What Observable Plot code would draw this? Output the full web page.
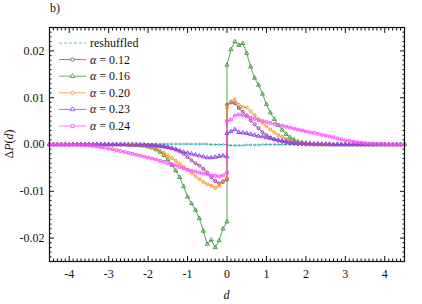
<!DOCTYPE html>
<html>
<head>
<meta charset="utf-8">
<script src="https://cdn.jsdelivr.net/npm/d3@7"></script>
<script src="https://cdn.jsdelivr.net/npm/@observablehq/plot@0.6"></script>
<style>
  html, body { margin: 0; padding: 0; background: white; font-family: "Liberation Serif", serif; }
  #wrap { position: relative; width: 422px; height: 304px; }
  #wrap svg, #wrap svg text { font-family: "Liberation Serif", serif !important; }
  #overlay { position: absolute; left: 0; top: 0; pointer-events: none; }
</style>
</head>
<body>
<div id="wrap"></div>
<script>
// ---------- data (values in units of 1e-4) ----------
const UNIT = 1e-4;
// bin positions: negative side -4.5 .. 0.0, positive side 0.0 .. 4.5 (step 0.1)
const dNeg = d3.range(-45, 1).map(i => i / 10);
const dPos = d3.range(0, 46).map(i => i / 10);

const seriesNames = ["reshuffled", "α = 0.12", "α = 0.16", "α = 0.20", "α = 0.23", "α = 0.24"];
const seriesColors = ["#35aaaa", "#962e96", "#3a963a", "#ff8a1e", "#8e3cf5", "#ff4cff"];
const seriesSymbols = ["circle", "circle", "triangle", "circle", "triangle", "square"];

const reshuffledNeg = [0,0,0,0,0,0,0,0,0,0, 0,0,0,0,0,0,0,0,0,0, 0,0,0,0,0,
  1,1,1,1,1,1,1,1,1,1,1,1,1,1,1,1, 0,0,0,0,0];
const reshuffledPos = [-2,-2,-2,-2,-2,-1,-1,-1,-1, 0,0,0,0,0,0,0,0,0,0,0,
  0,0,0,0,0,0,0,0,0,0, 0,0,0,0,0,0,0,0,0,0, 0,0,0,0,0,0];

const a012Neg = [0,0,0,0,0,0,0,0,0,0, 0,0,0,0,0,0,0,0,0,0, 0,0,0,0,0,
  -1,-1,-2,-3,-4,-6,-8,-11,-15,-20,-27,-34,-40,-45,-52,-60,-70,-78,-83,-80,-75];
const a012Pos = [85,90,88,78,70,62,51,43,35,26,20,15,11,8,6,4,3,2,1,1,
  0,0,0,0,0,0,0,0,0,0, 0,0,0,0,0,0,0,0,0,0, 0,0,0,0,0,0];

const a016Neg = [0,0,0,0,0,0,0,0,0,0, 0,0,0,0,0,0,0,0,0,0, 0,0,
  -1,-2,-3,-5,-7,-11,-16,-23,-32,-44,-56,-70,-90,-112,-126,-140,-158,-185,-213,-204,-220,-205,-180,-165];
const a016Pos = [170,203,220,212,216,195,166,142,127,108,86,68,54,41,31,22,15,10,6,4,3,2,1,1,
  0,0,0,0,0,0,0,0,0,0, 0,0,0,0,0,0,0,0,0,0, 0,0];

const a020Neg = [0,0,0,0,0,0,0,0,0,0, 0,0,0,0,0,0,0,0,0,0, 0,0,
  -1,-2,-3,-4,-6,-9,-13,-18,-24,-29,-35,-41,-48,-54,-61,-68,-74,-80,-85,-88,-93,-88,-78,-72];
const a020Pos = [78,92,96,85,80,79,71,63,54,46,39,32,26,20,16,12,9,6,4,3,2,1,1,0,
  0,0,0,0,0,0,0,0,0,0, 0,0,0,0,0,0,0,0,0,0, 0,0];

const a023Neg = [0,0,0,0,0,0,0,0,0,0, 0,0,0,0,0,0,0,0,0,0,
  -1,-1,-1,-1,-1,-2,-2,-3,-4,-5,-6,-8,-10,-13,-16,-18,-20,-22,-24,-26,-28,-28,-27,-25,-24,-26];
const a023Pos = [24,28,32,26,25,24,22,20,18,17,15,13,11,10,8,7,5,4,3,3,2,2,1,1,1,1,1,
  0,0,0,0,0,0,0,0,0,0, 0,0,0,0,0,0,0,0];

const a024Neg = [0,0,0,0,0,0,0,0,
  -1,-1,-2,-3,-4,-6,-7,-9,-10,-12,-14,-16,-18,-20,-22,-24,-26,-28,-30,-32,-35,-37,
  -40,-42,-45,-48,-51,-54,-56,-58,-60,-62,-64,-66,-67,-68,-66,-60];
const a024Pos = [50,53,62,64,62,60,57,55,52,50,48,46,44,42,40,38,36,34,32,30,
  28,26,25,23,21,19,17,15,13,11,9,8,6,5,4,3,2,2,1,1,1, 0,0,0,0,0];

const seriesData = [
  [reshuffledNeg, reshuffledPos],
  [a012Neg, a012Pos],
  [a016Neg, a016Pos],
  [a020Neg, a020Pos],
  [a023Neg, a023Pos],
  [a024Neg, a024Pos]
];

// tick labels
const xMajor = [-4, -3, -2, -1, 0, 1, 2, 3, 4];
const xTickLabels = ["-4", "-3", "-2", "-1", "0", "1", "2", "3", "4"];
const yMajor = [-0.02, -0.01, 0, 0.01, 0.02];
const yTickLabels = ["-0.02", "-0.01", "0.00", "0.01", "0.02"];

// ---------- build table ----------
const table = [];
seriesNames.forEach((name, s) => {
  const [neg, pos] = seriesData[s];
  neg.forEach((v, i) => table.push({series: name, d: dNeg[i], v: v * UNIT}));
  pos.forEach((v, i) => table.push({series: name, d: dPos[i], v: v * UNIT}));
});

const xMinor = d3.range(-45, 46).filter(i => i % 10 !== 0).map(i => i / 10);
const yMinor = d3.range(-25, 26).filter(i => i % 10 !== 0).map(i => i / 1000);
const xLab = new Map(xMajor.map((d, i) => [d, xTickLabels[i]]));
const yLab = new Map(yMajor.map((d, i) => [Math.round(d * 1000), yTickLabels[i]]));

const serif = "Liberation Serif";
const ink = "#111";
const blank = () => "";

const chart = Plot.plot({
  width: 422,
  height: 304,
  marginLeft: 49,
  marginRight: 18,
  marginTop: 27,
  marginBottom: 43,
  style: {fontFamily: serif, fontSize: "12px", color: ink, background: "white"},
  x: {domain: [-4.5, 4.5]},
  y: {domain: [-0.025, 0.025]},
  color: {domain: seriesNames, range: seriesColors},
  symbol: {domain: seriesNames, range: seriesSymbols},
  marks: [
    // tick labels
    Plot.axisX({ticks: xMajor, tickSize: 0, tickPadding: 8, tickFormat: d => xLab.get(d), label: null, fontSize: 12}),
    Plot.axisY({ticks: yMajor, tickSize: 0, tickPadding: 5, tickFormat: d => yLab.get(Math.round(d * 1000)), label: null, fontSize: 12}),
    // inward major ticks, all four sides
    Plot.axisX({ticks: xMajor, tickSize: 5, dy: -5, tickFormat: blank, label: null}),
    Plot.axisX({anchor: "top", ticks: xMajor, tickSize: 5, dy: 5, tickFormat: blank, label: null}),
    Plot.axisY({ticks: yMajor, tickSize: 5, dx: 5, tickFormat: blank, label: null}),
    Plot.axisY({anchor: "right", ticks: yMajor, tickSize: 5, dx: -5, tickFormat: blank, label: null}),
    // inward minor ticks
    Plot.axisX({ticks: xMinor, tickSize: 2.5, dy: -2.5, tickFormat: blank, label: null}),
    Plot.axisX({anchor: "top", ticks: xMinor, tickSize: 2.5, dy: 2.5, tickFormat: blank, label: null}),
    Plot.axisY({ticks: yMinor, tickSize: 2.5, dx: 2.5, tickFormat: blank, label: null}),
    Plot.axisY({anchor: "right", ticks: yMinor, tickSize: 2.5, dx: -2.5, tickFormat: blank, label: null}),
    // data
    Plot.line(table.filter(r => r.series === "reshuffled"), {x: "d", y: "v", stroke: "series", strokeWidth: 1, strokeDasharray: "3,2"}),
    Plot.dot(table.filter(r => r.series === "reshuffled"), {x: "d", y: "v", stroke: "series", r: 1, strokeWidth: 0.6}),
    ...seriesNames.slice(1).flatMap(name => [
      Plot.line(table.filter(r => r.series === name), {x: "d", y: "v", stroke: "series", strokeWidth: 1, strokeOpacity: 0.85}),
      Plot.dot(table.filter(r => r.series === name), {x: "d", y: "v", stroke: "series", symbol: "series", r: 1.5, strokeWidth: 0.9, fill: "none"})
    ]),
    Plot.frame({stroke: ink, strokeWidth: 1.2})
  ]
});

const wrap = document.getElementById("wrap");
wrap.appendChild(chart);

// ---------- overlay: panel label, axis titles, legend ----------
const ov = d3.select(wrap).append("svg")
  .attr("id", "overlay").attr("width", 422).attr("height", 304)
  .attr("font-family", serif).attr("font-size", 12).attr("fill", ink);

ov.append("text").attr("x", 50).attr("y", 12).text("b)");

ov.append("text").attr("x", 226.5).attr("y", 299).attr("text-anchor", "middle")
  .attr("font-style", "italic").text("d");

const yl = ov.append("text").attr("transform", "translate(13,144) rotate(-90)").attr("text-anchor", "middle");
yl.append("tspan").text("Δ");
yl.append("tspan").attr("font-style", "italic").text("P");
yl.append("tspan").text("(");
yl.append("tspan").attr("font-style", "italic").text("d");
yl.append("tspan").text(")");

const lgTop = 43, lgStep = 16.6;
seriesNames.forEach((name, i) => {
  const y = lgTop + i * lgStep;
  const g = ov.append("g");
  g.append("line").attr("x1", 59).attr("x2", 86).attr("y1", y).attr("y2", y)
    .attr("stroke", seriesColors[i]).attr("stroke-width", 1).attr("stroke-opacity", 0.75)
    .attr("stroke-dasharray", i === 0 ? "3,2" : null);
  if (i > 0) {
    const sym = d3.symbol().type(seriesSymbols[i] === "triangle" ? d3.symbolTriangle : seriesSymbols[i] === "square" ? d3.symbolSquare : d3.symbolCircle).size(9);
    g.append("path").attr("d", sym()).attr("transform", `translate(72.5,${y})`)
      .attr("fill", "white").attr("stroke", seriesColors[i]).attr("stroke-width", 0.8);
  }
  const t = g.append("text").attr("x", 90).attr("y", y + 4);
  if (i === 0) t.text(name);
  else {
    t.append("tspan").attr("font-style", "italic").text("α");
    t.append("tspan").text(name.slice(1));
  }
});
</script>
</body>
</html>
